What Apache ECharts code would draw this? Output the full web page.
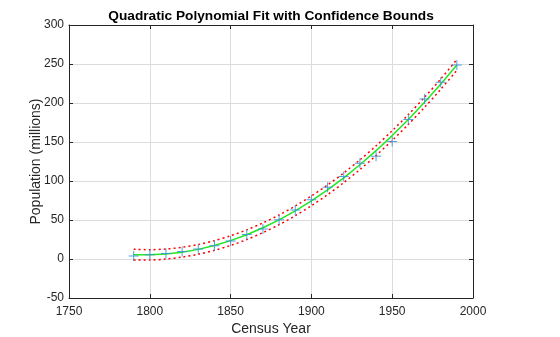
<!DOCTYPE html>
<html><head><meta charset="utf-8">
<script src="https://cdn.jsdelivr.net/npm/echarts@6/dist/echarts.min.js"></script>
<style>html,body{margin:0;padding:0;background:#fff}#c{width:560px;height:337px}</style>
</head><body><div id="c"></div>
<script>
const years = [1790,1800,1810,1820,1830,1840,1850,1860,1870,1880,1890,1900,1910,1920,1930,1940,1950,1960,1970,1980,1990];
const population = [3.9,5.3,7.2,9.6,12.9,17.1,23.1,31.4,38.6,50.2,62.9,76.0,92.0,105.7,122.8,131.7,150.7,179.0,205.0,226.5,248.7];
const fitValues = [5.59,5.31,6.35,8.70,12.35,17.31,23.58,31.16,40.05,50.24,61.74,74.56,88.67,104.10,120.84,138.88,158.23,178.89,200.86,224.14,248.73];
const upperBound = [12.51,11.93,12.76,14.98,18.56,23.50,29.78,37.37,46.28,56.49,67.99,80.80,94.90,110.31,127.03,145.07,164.44,185.17,207.27,230.76,255.65];
const lowerBound = [-1.33,-1.31,-0.06,2.42,6.14,11.12,17.39,24.95,33.82,44.00,55.49,68.31,82.44,97.89,114.64,132.69,152.02,172.61,194.45,217.52,241.81];
const xTicks = [1750,1800,1850,1900,1950,2000];
const yTicks = [-50,0,50,100,150,200,250,300];

const pair = (ys) => years.map((x,i)=>[x, ys[i]]);
const font = 'Liberation Sans, Arial, Helvetica, sans-serif';
const axisCol = '#262626';
const chart = echarts.init(document.getElementById('c'), null, {renderer:'canvas'});
const plus = 'path://M4.5,0h1v4.5h4.5v1h-4.5v4.5h-1v-4.5h-4.5v-1h4.5z';
chart.setOption({
  animation:false,
  backgroundColor:'#fff',
  title:{text:'Quadratic Polynomial Fit with Confidence Bounds', left:266, top:4, textAlign:'center',
    textStyle:{fontFamily:font, fontSize:13.7, fontWeight:'bold', color:'#000'}},
  grid:{left:69, right:87, top:25, bottom:39, outerBoundsMode:'none', containLabel:false},
  xAxis:[{type:'value', min:xTicks[0], max:xTicks[xTicks.length-1], interval:50,
    name:'Census Year', nameLocation:'middle', nameGap:24, nameMoveOverlap:false,
    nameTextStyle:{fontFamily:font, fontSize:14, color:'#262626'},
    axisLine:{show:true, onZero:false, lineStyle:{color:axisCol, width:1}},
    axisTick:{show:true, inside:true, length:4, lineStyle:{color:axisCol}},
    axisLabel:{fontFamily:font, fontSize:12, color:'#262626', margin:8, formatter:(v)=>String(v)},
    splitLine:{show:true, lineStyle:{color:'#dcdcdc', width:1}}},
   {type:'value', position:'top', min:xTicks[0], max:xTicks[xTicks.length-1], interval:50,
    axisLine:{show:true, onZero:false, lineStyle:{color:axisCol}}, axisTick:{show:true, inside:true, length:4, lineStyle:{color:axisCol}},
    axisLabel:{show:false}, splitLine:{show:false}}],
  yAxis:[{type:'value', min:yTicks[0], max:yTicks[yTicks.length-1], interval:50,
    name:'Population (millions)', nameLocation:'middle', nameGap:26, nameRotate:90, nameMoveOverlap:false,
    nameTextStyle:{fontFamily:font, fontSize:14, color:'#262626'},
    axisLine:{show:true, onZero:false, lineStyle:{color:axisCol, width:1}},
    axisTick:{show:true, inside:true, length:4, lineStyle:{color:axisCol}},
    axisLabel:{fontFamily:font, fontSize:12, color:'#262626', margin:5},
    splitLine:{show:true, lineStyle:{color:'#dcdcdc', width:1}}},
   {type:'value', position:'right', min:yTicks[0], max:yTicks[yTicks.length-1], interval:50,
    axisLine:{show:true, onZero:false, lineStyle:{color:axisCol}}, axisTick:{show:true, inside:true, length:4, lineStyle:{color:axisCol}},
    axisLabel:{show:false}, splitLine:{show:false}}],
  series:[
    {type:'line', data:pair(fitValues), showSymbol:false, symbol:'none', z:2,
      lineStyle:{color:'#22e622', width:1.5}},
    {type:'line', data:pair(upperBound), showSymbol:false, symbol:'none', smooth:0.3, z:2,
      lineStyle:{color:'#ff0000', width:1.5, type:[2,3]}},
    {type:'line', data:pair(lowerBound), showSymbol:false, symbol:'none', smooth:0.3, z:2,
      lineStyle:{color:'#ff0000', width:1.5, type:[2,3]}},
    {type:'scatter', data:pair(population), symbol:plus, symbolSize:10, z:3,
      itemStyle:{color:'#3a8fd6', opacity:0.85}}
  ]
});
</script></body></html>
